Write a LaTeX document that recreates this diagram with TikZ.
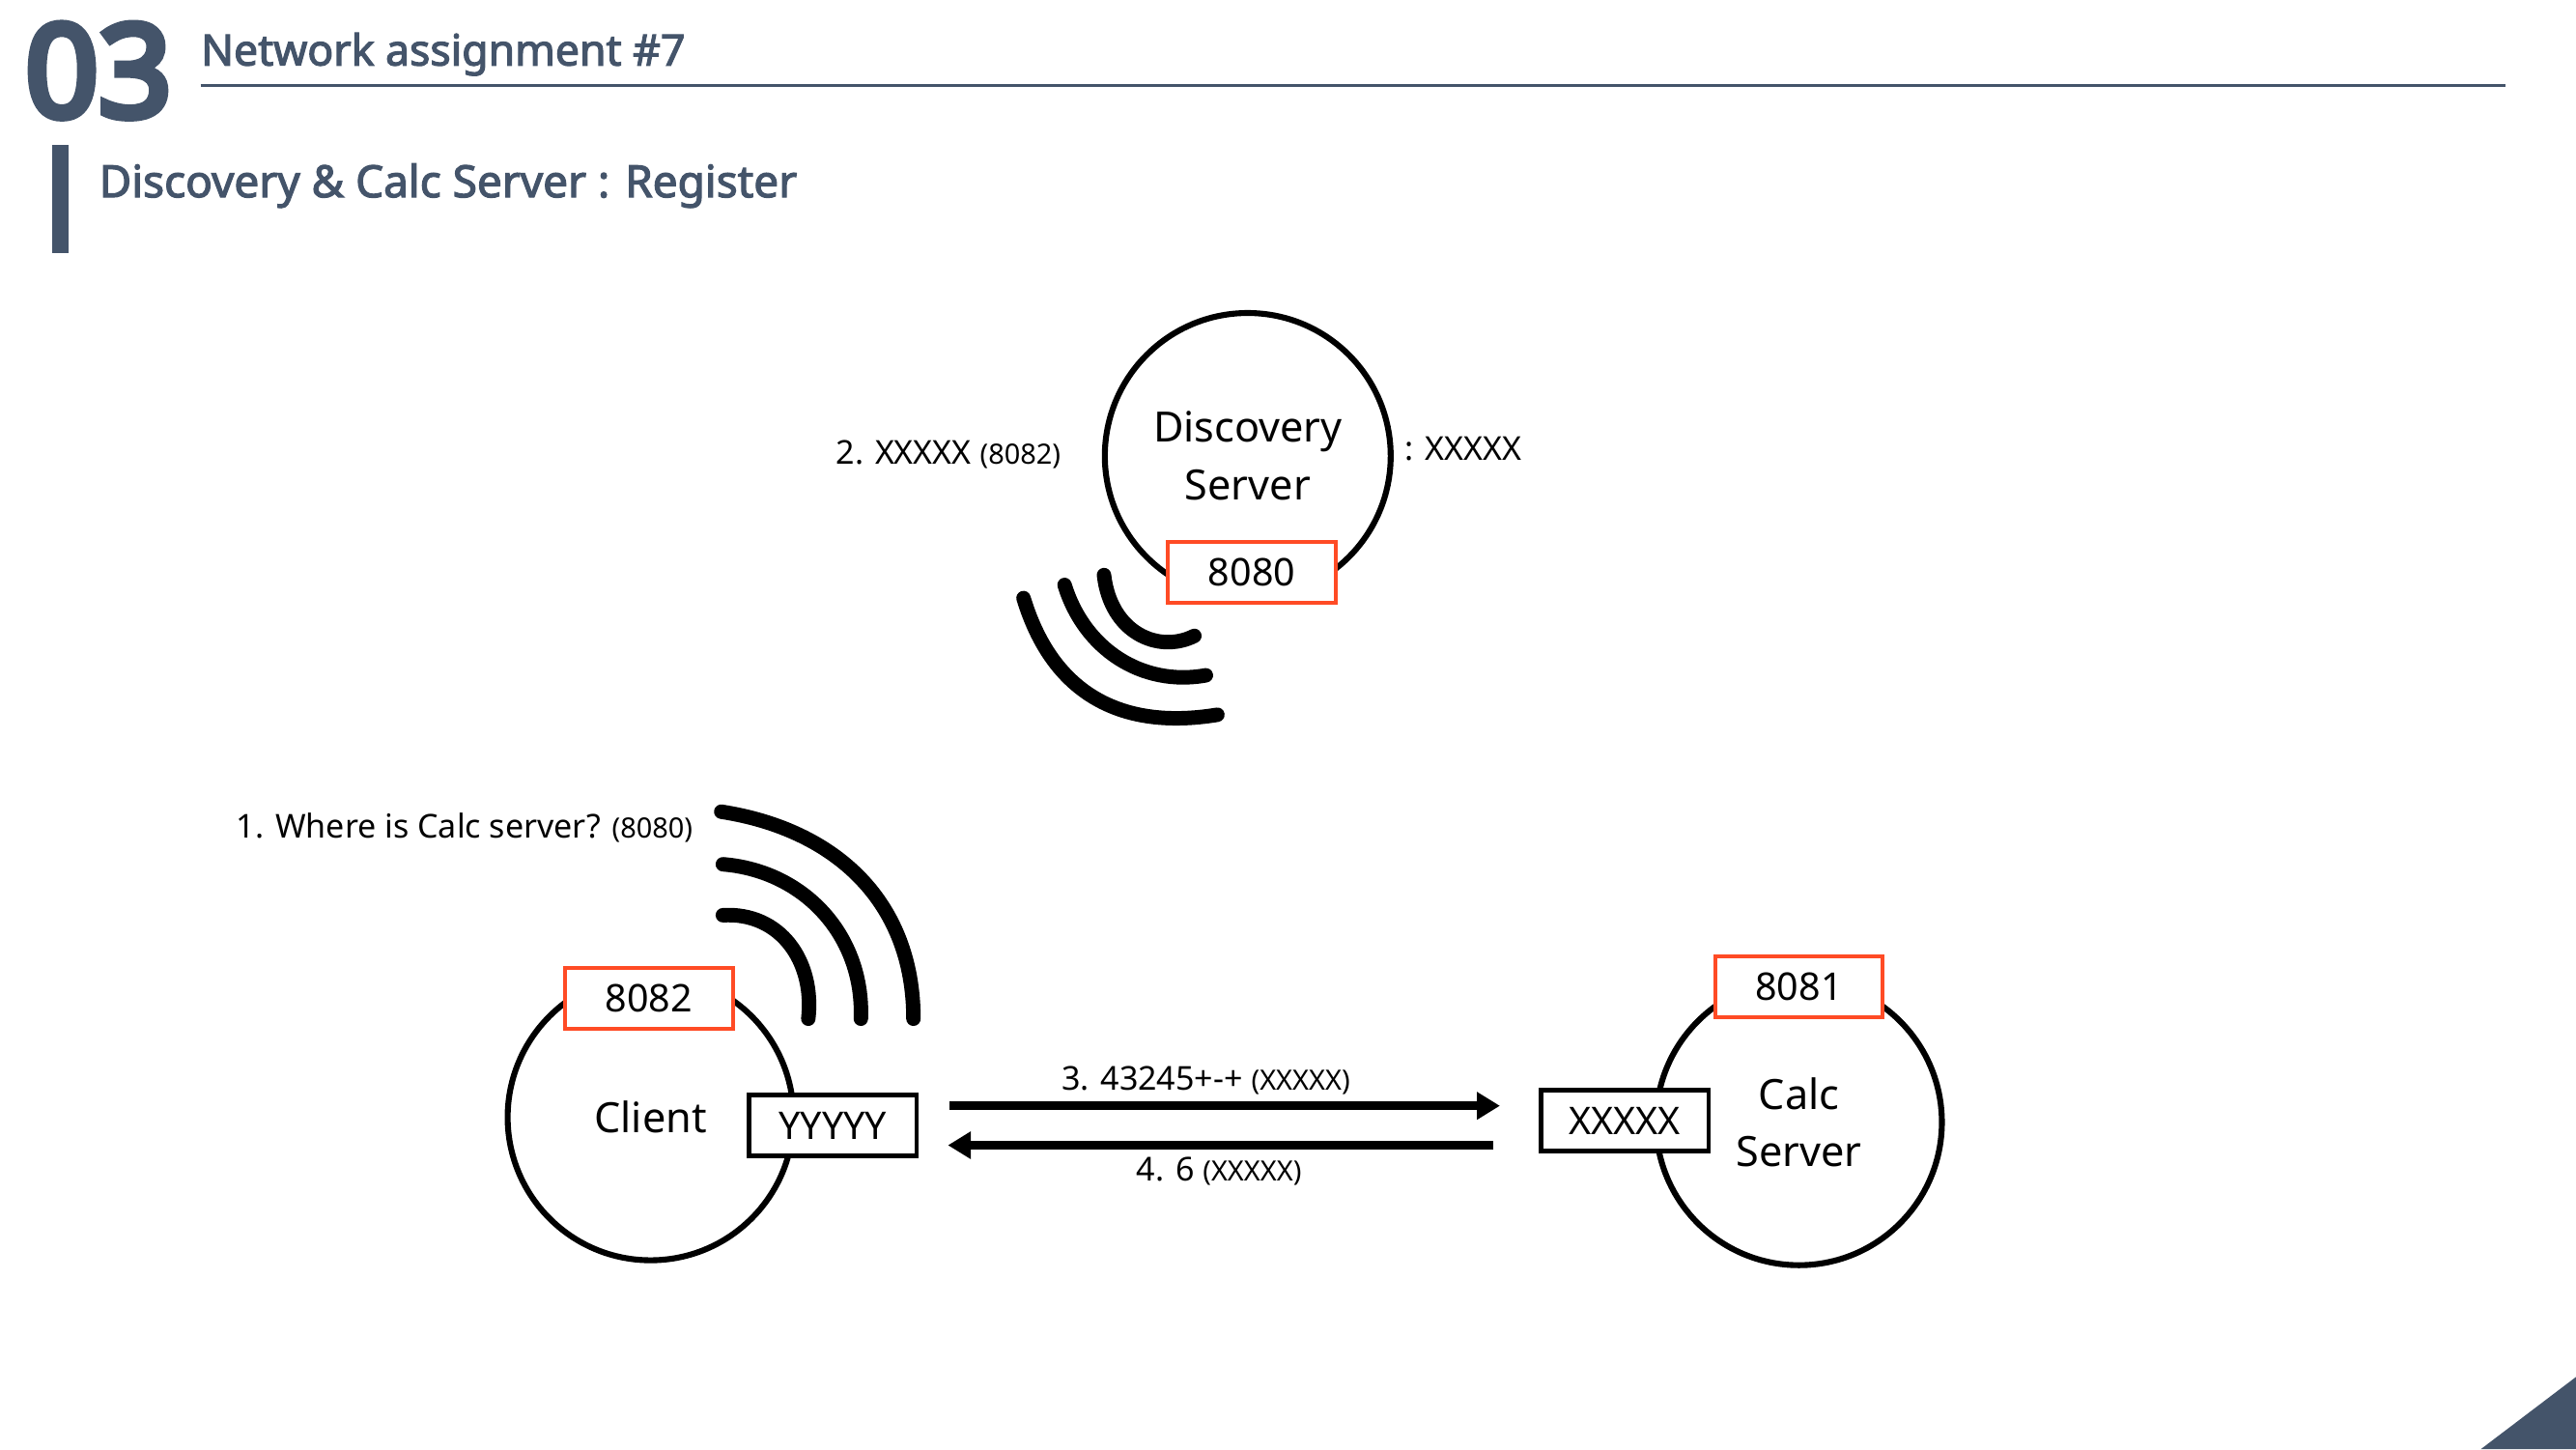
\documentclass[tikz,border=0pt]{standalone}
\usepackage{fontspec}
\setmainfont{Noto Sans}
\newfontfamily\headfont[FakeBold=2.6]{Noto Sans}
\newfontfamily\numfont[FakeBold=6]{Noto Sans}
\usetikzlibrary{arrows.meta}
\definecolor{slate}{HTML}{44546A}
\definecolor{portred}{HTML}{FF4B25}

\begin{document}
\begin{tikzpicture}[x=0.5pt,y=-0.5pt]
  \tikzstyle{host}=[circle,draw=black,line width=1.8pt,minimum size=87pt,inner sep=0pt,align=center,font=\fontsize{12.7}{17.5}\selectfont]
  \tikzstyle{port}=[draw=portred,fill=white,line width=1.2pt,minimum width=51pt,minimum height=18.5pt,inner sep=0pt,font=\fontsize{11.6}{14}\selectfont]
  \tikzstyle{sock}=[port,draw=black,line width=1.3pt]
  \tikzstyle{note}=[inner sep=0pt,font=\fontsize{10}{12}\selectfont]
  \tikzstyle{wave}=[line width=4.4pt,line cap=round]
  \tikzstyle{msg}=[line width=2.8pt,-{Triangle[length=7pt,width=8pt]}]
  \useasboundingbox (0,0) rectangle (1568,882);
  \node[inner sep=0pt,text=slate,font=\fontsize{39}{39}\numfont] (num) at (60,43) {03};
  \node[inner sep=0pt,anchor=west,text=slate,font=\fontsize{13.1}{16}\headfont] (title) at (122,33) {Network assignment \#7};
  \coordinate (ruleL) at (122,52);
  \coordinate (ruleR) at (1525,52);
  \draw[slate,line width=0.8pt] (ruleL) -- (ruleR);
  \fill[slate] (32,88) rectangle (42,154);
  \node[inner sep=0pt,anchor=west,text=slate,font=\fontsize{13.5}{16}\headfont] (sub) at (60,113) {Discovery \& Calc Server : Register};
  \fill[slate] (1510,882) -- (1568,838) -- (1568,882) -- cycle;

  \node[host] (D) at (759.5,277.5) {Discovery\\Server};
  \node[host] (C) at (396,680) {Client};
  \node[host] (S) at (1095,683) {Calc\\Server};
  \node[port] (D0) at (762,348.5) {8080};
  \node[port] (C0) at (395,607.5) {8082};
  \node[port] (S0) at (1095,600.5) {8081};
  \node[sock] (C1) at (507,685) {YYYYY};
  \node[sock] (S1) at (989,682) {XXXXX};

  \node[note,anchor=east] (n2) at (646,276.5) {2. XXXXX {\fontsize{8.5}{10}\selectfont (8082)}};
  \node[note,anchor=west] (n2b) at (855,273) {: XXXXX};
  \node[note,anchor=east] (n1) at (422,504) {1. Where is Calc server? {\fontsize{8.5}{10}\selectfont (8080)}};
  \node[note] (n3) at (734,657.5) {3. 43245+-+ {\fontsize{8.5}{10}\selectfont (XXXXX)}};
  \node[note] (n4) at (742,713) {4. 6 {\fontsize{8.5}{10}\selectfont (XXXXX)}};

  \coordinate (a3) at (578,673);
  \coordinate (b3) at (913,673);
  \coordinate (a4) at (909,697);
  \coordinate (b4) at (577,697);
  \draw[msg] (a3) -- (b3);
  \draw[msg] (a4) -- (b4);

  \draw[wave] (672,350) .. controls (676,385) and (705,398) .. (727,387);
  \draw[wave] (648,356) .. controls (660,395) and (695,418) .. (734,411);
  \draw[wave] (623,364) .. controls (640,420) and (680,445) .. (741,435);
  \draw[wave] (440,557) .. controls (475,555) and (496,585) .. (492,620);
  \draw[wave] (440,526) .. controls (490,530) and (526,570) .. (524,620);
  \draw[wave] (439,494) .. controls (510,505) and (556,550) .. (556,620);
\end{tikzpicture}
\end{document}
